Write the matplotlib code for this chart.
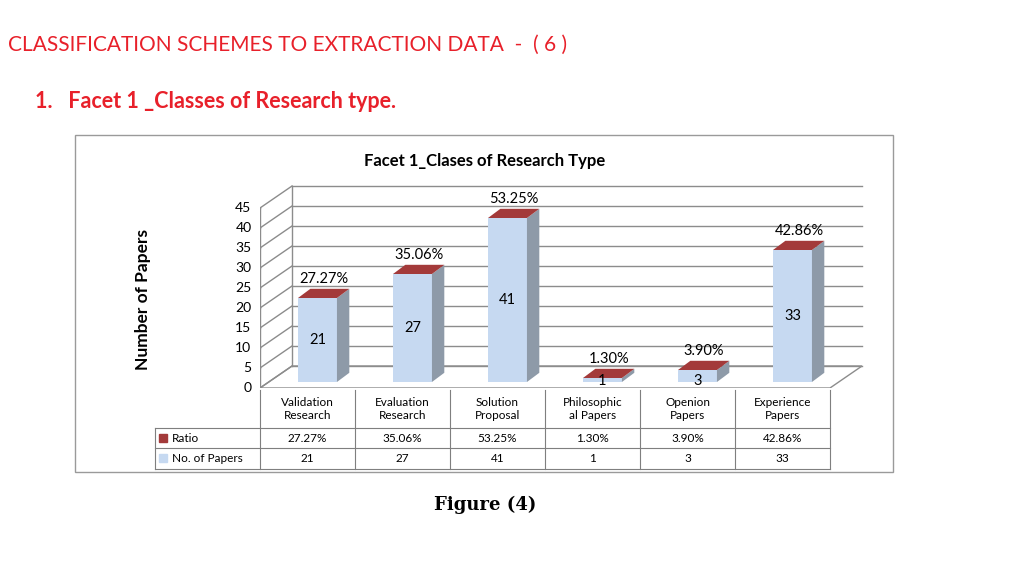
import matplotlib.pyplot as plt
from matplotlib.patches import Polygon, Rectangle

plt.rcParams["font.family"] = "Lato"

categories = ["Validation\nResearch", "Evaluation\nResearch", "Solution\nProposal",
              "Philosophic\nal Papers", "Openion\nPapers", "Experience\nPapers"]
papers = [21, 27, 41, 1, 3, 33]
ratios = ["27.27%", "35.06%", "53.25%", "1.30%", "3.90%", "42.86%"]
y_ticks = [0, 5, 10, 15, 20, 25, 30, 35, 40, 45]

RED = "#E8202A"
FRONT = "#C6D9F1"
SIDE = "#8E9AA8"
TOP = "#A33A3A"
GRID = "#8C8C8C"

fig = plt.figure(figsize=(10.24, 5.76), dpi=100)

# page axes in pixel coordinates
bg = fig.add_axes([0, 0, 1, 1])
bg.set_xlim(0, 1024)
bg.set_ylim(576, 0)
bg.axis("off")

bg.text(8, 45, "CLASSIFICATION SCHEMES TO EXTRACTION DATA  -  ( 6 )", color=RED,
        fontsize=15, va="center", ha="left")
bg.text(35, 101, "1.   Facet 1 _Classes of Research type.", color=RED,
        fontsize=15.5, fontweight="bold", va="center", ha="left")
bg.add_patch(Rectangle((75, 135), 818, 337, fill=False, ec="#9A9A9A", lw=1))
bg.text(485, 161, "Facet 1_Clases of Research Type", fontsize=12,
        fontweight="bold", ha="center", va="center")
bg.text(485, 505, "Figure (4)", fontsize=13, fontweight="bold", family="DejaVu Serif",
        ha="center", va="center")
bg.text(143, 300, "Number of Papers", fontsize=12.5, fontweight="bold",
        rotation=90, ha="center", va="center")

# data table
cols = [260 + 95 * i for i in range(7)]
rows = [390, 428, 448, 469]
for x in cols:
    bg.plot([x, x], [rows[0], rows[-1]], color="#7F7F7F", lw=0.8)
for y in rows[1:]:
    bg.plot([155, cols[-1]], [y, y], color="#7F7F7F", lw=0.8)
bg.plot([155, 155], [rows[1], rows[-1]], color="#7F7F7F", lw=0.8)
for i, cat in enumerate(categories):
    cx = cols[i] + 47.5
    bg.text(cx, 409, cat, fontsize=8.5, ha="center", va="center", linespacing=1.25)
    bg.text(cx, 438, ratios[i], fontsize=8.5, ha="center", va="center")
    bg.text(cx, 458.5, str(papers[i]), fontsize=8.5, ha="center", va="center")
bg.add_patch(Rectangle((159, 434), 8, 8, color=TOP))
bg.text(172, 438, "Ratio", fontsize=8.5, va="center")
bg.add_patch(Rectangle((159, 454), 8, 8, color=FRONT))
bg.text(172, 458.5, "No. of Papers", fontsize=8.5, va="center")

# 3D-looking chart axes: x pixels 260-900, y pixels 150-388
ax = fig.add_axes([260 / 1024, 1 - 388 / 576, 640 / 1024, 238 / 576])
ax.set_xlim(0, 640 / 95)
ax.set_ylim(0, 238 / 4)
ax.axis("off")
n = len(categories)
dx, dy = 0.337, 5.5

ax.add_patch(Polygon([(0, 0), (n, 0), (n + dx, dy), (dx, dy)], closed=True,
                     fc="white", ec=GRID, lw=1))
for v in y_ticks:
    ax.plot([dx, n + dx], [v + dy, v + dy], color=GRID, lw=1)
    ax.plot([0, dx], [v, v + dy], color=GRID, lw=1)
    ax.plot([-0.06, 0], [v, v], color=GRID, lw=1)
    ax.text(-0.09, v, str(v), fontsize=10, ha="right", va="center")
ax.plot([0, 0], [0, y_ticks[-1]], color=GRID, lw=1)
ax.plot([dx, dx], [dy, y_ticks[-1] + dy], color=GRID, lw=1)

base, w, bdx, bdy = 1.5, 0.41, 0.13, 2.3
for i, val in enumerate(papers):
    x0 = i + 0.4
    top = base + val
    ax.add_patch(Polygon([(x0, base), (x0 + w, base), (x0 + w, top), (x0, top)],
                         closed=True, fc=FRONT, ec="none", zorder=3))
    ax.add_patch(Polygon([(x0 + w, base), (x0 + w + bdx, base + bdy),
                          (x0 + w + bdx, top + bdy), (x0 + w, top)],
                         closed=True, fc=SIDE, ec="none", zorder=3))
    ax.add_patch(Polygon([(x0, top), (x0 + w, top), (x0 + w + bdx, top + bdy),
                          (x0 + bdx, top + bdy)],
                         closed=True, fc=TOP, ec="none", zorder=3))
    ax.text(x0 + w / 2, base + val / 2 if val > 3 else base + 0.2, str(val),
            fontsize=10.5, ha="center", va="center", zorder=4)
    ax.text(x0 + w / 2 + 0.07, top + bdy + 0.6, ratios[i], fontsize=10.5,
            ha="center", va="bottom", zorder=4)

fig.savefig("out.png", dpi=100)
